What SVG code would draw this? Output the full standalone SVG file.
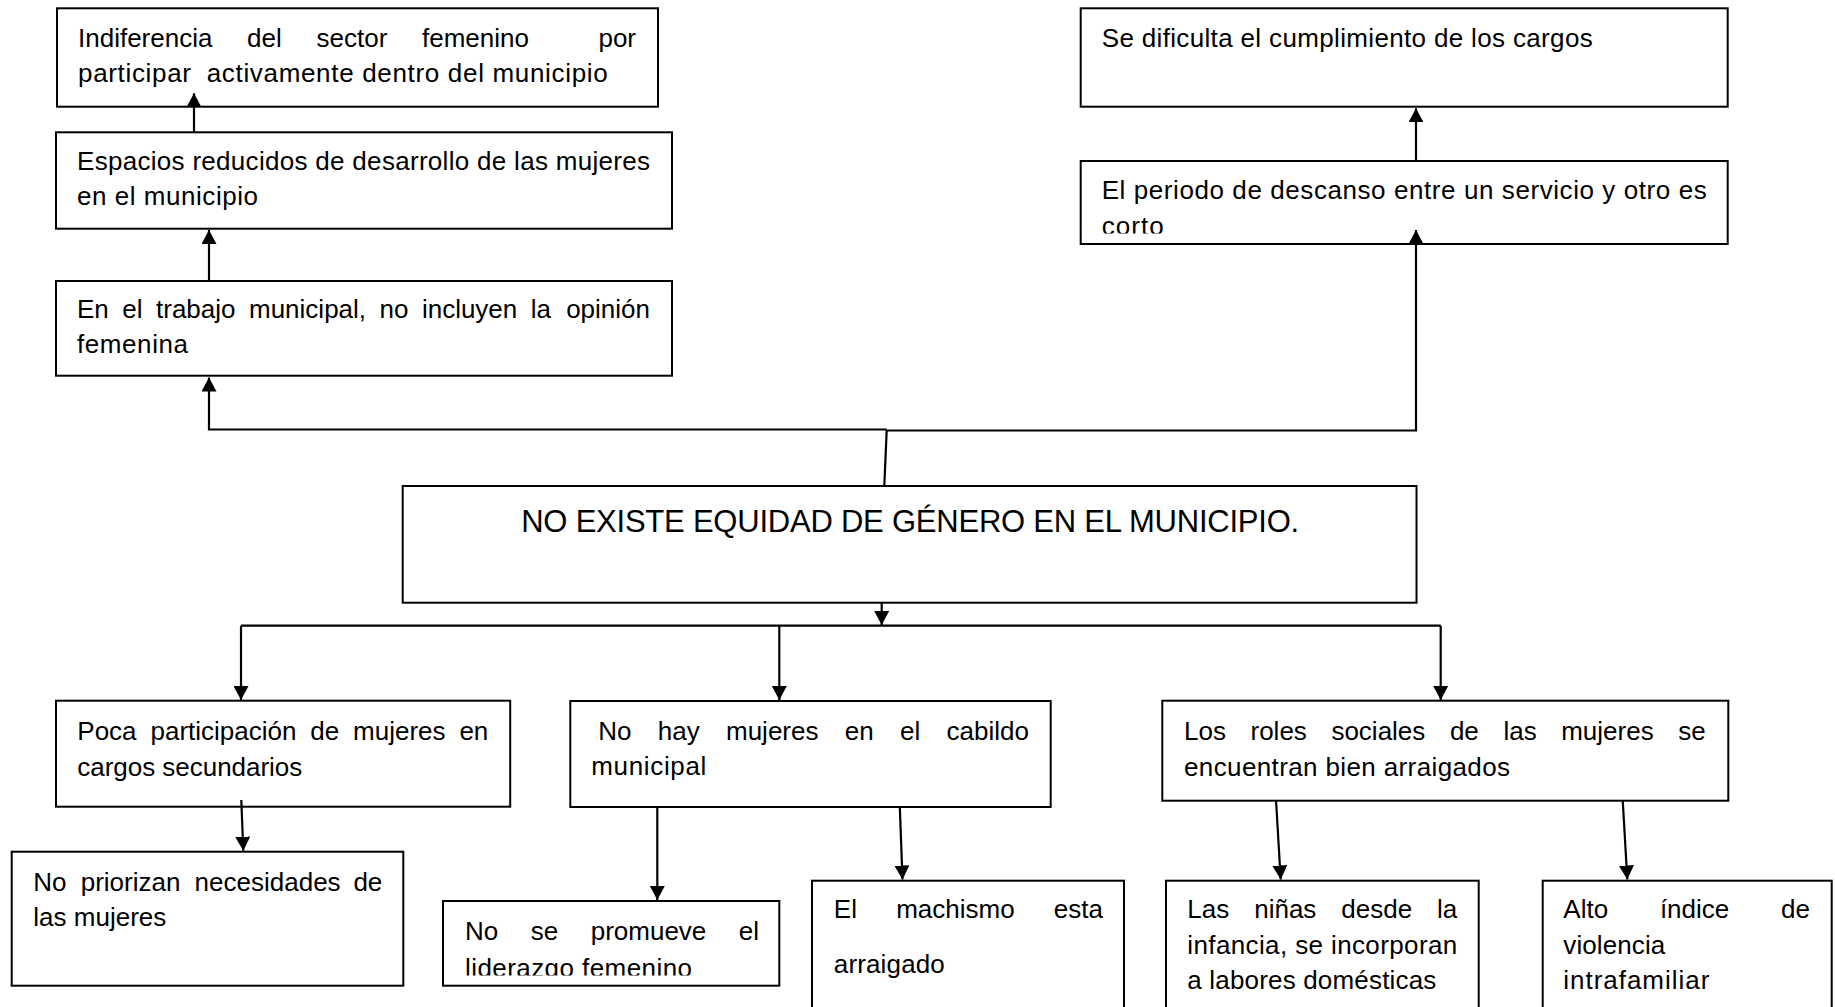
<svg xmlns="http://www.w3.org/2000/svg" width="1835" height="1007" viewBox="0 0 1835 1007">
<style>
  .box { fill: #fff; stroke: #000; stroke-width: 2; }
  .t { font-family: "Liberation Sans", Arial, sans-serif; font-size: 26px; fill: #000; }
  .e { text-anchor: end; }
  .title { font-family: "Liberation Sans", Arial, sans-serif; font-size: 31px; fill: #000; }
  .c { fill: none; stroke: #000; stroke-width: 2.2; }
  .a { marker-end: url(#arr); }
</style>
<defs>
  <marker id="arr" viewBox="0 0 14 15" markerWidth="14" markerHeight="15" refX="14" refY="7.5" orient="auto" markerUnits="userSpaceOnUse">
    <path d="M0,0 L14,7.5 L0,15 z" fill="#000"/>
  </marker>
  <clipPath id="clipE"><rect x="1080" y="161" width="648" height="72.5"/></clipPath>
  <clipPath id="clipK"><rect x="443" y="901" width="337" height="74.5"/></clipPath>
</defs>
<rect width="1835" height="1007" fill="#fff"/>

<g id="nodeA">
  <rect class="box" x="57" y="8.3" width="601" height="98.4"/>
  <text class="t" y="47"><tspan x="78">Indiferencia</tspan><tspan x="247">del</tspan><tspan x="316.5">sector</tspan><tspan x="422">femenino</tspan></text>
  <text class="t e" x="636" y="47">por</text>
  <text class="t" x="78" y="82" textLength="113" lengthAdjust="spacing">participar</text>
  <text class="t" x="206.7" y="82" textLength="401" lengthAdjust="spacing">activamente dentro del municipio</text>
</g>

<g id="nodeB">
  <rect class="box" x="56" y="132.3" width="616" height="96.4"/>
  <text class="t" x="77" y="170" textLength="573" lengthAdjust="spacing">Espacios reducidos de desarrollo de las mujeres</text>
  <text class="t" x="77" y="205" textLength="181" lengthAdjust="spacing">en el municipio</text>
</g>

<g id="nodeC">
  <rect class="box" x="56" y="281" width="616" height="94.7"/>
  <text class="t" y="318"><tspan x="77">En</tspan><tspan x="122.3">el</tspan><tspan x="156">trabajo</tspan><tspan x="249">municipal,</tspan><tspan x="379.5">no</tspan><tspan x="421.9">incluyen</tspan><tspan x="530.8">la</tspan></text>
  <text class="t e" x="650" y="318">opinión</text>
  <text class="t" x="77" y="353" textLength="111" lengthAdjust="spacing">femenina</text>
</g>

<g id="nodeD">
  <rect class="box" x="1080.7" y="8.3" width="647" height="98.4"/>
  <text class="t" x="1101.7" y="46.7" textLength="491" lengthAdjust="spacing">Se dificulta el cumplimiento de los cargos</text>
</g>

<g id="nodeE">
  <rect class="box" x="1080.7" y="161" width="647" height="83"/>
  <text class="t" x="1101.7" y="199.3" textLength="605" lengthAdjust="spacing">El periodo de descanso entre un servicio y otro es</text>
  <text class="t" x="1101.7" y="234.5" textLength="62" lengthAdjust="spacing" clip-path="url(#clipE)">corto</text>
</g>

<g id="nodeF">
  <rect class="box" x="402.7" y="486" width="1013.8" height="116.7"/>
  <text class="title" x="521.2" y="531.7" textLength="778" lengthAdjust="spacing">NO EXISTE EQUIDAD DE GÉNERO EN EL MUNICIPIO.</text>
</g>

<g id="nodeG">
  <rect class="box" x="56" y="700.7" width="454.2" height="106"/>
  <text class="t" y="740"><tspan x="77.3">Poca</tspan><tspan x="150.5">participación</tspan><tspan x="310.3">de</tspan><tspan x="353.1">mujeres</tspan></text>
  <text class="t e" x="488.3" y="740">en</text>
  <text class="t" x="77.3" y="776" textLength="225" lengthAdjust="spacing">cargos secundarios</text>
</g>

<g id="nodeH">
  <rect class="box" x="570.3" y="701" width="480.4" height="106"/>
  <text class="t" y="740"><tspan x="598.3">No</tspan><tspan x="657.8">hay</tspan><tspan x="726">mujeres</tspan><tspan x="844.8">en</tspan><tspan x="900">el</tspan></text>
  <text class="t e" x="1029" y="740">cabildo</text>
  <text class="t" x="591.3" y="775" textLength="115" lengthAdjust="spacing">municipal</text>
</g>

<g id="nodeI">
  <rect class="box" x="1162.3" y="700.7" width="566" height="100"/>
  <text class="t" y="740"><tspan x="1184">Los</tspan><tspan x="1250.5">roles</tspan><tspan x="1331.4">sociales</tspan><tspan x="1449.9">de</tspan><tspan x="1503.4">las</tspan><tspan x="1561.2">mujeres</tspan></text>
  <text class="t e" x="1705.7" y="740">se</text>
  <text class="t" x="1184" y="776" textLength="326" lengthAdjust="spacing">encuentran bien arraigados</text>
</g>

<g id="nodeJ">
  <rect class="box" x="11.7" y="851.7" width="391.6" height="134"/>
  <text class="t" y="890.7"><tspan x="33.3">No</tspan><tspan x="80.7">priorizan</tspan><tspan x="194.6">necesidades</tspan></text>
  <text class="t e" x="382.3" y="890.7">de</text>
  <text class="t" x="33.3" y="926" textLength="133" lengthAdjust="spacing">las mujeres</text>
</g>

<g id="nodeK">
  <rect class="box" x="443" y="901" width="336.3" height="84.7"/>
  <text class="t" y="940"><tspan x="465">No</tspan><tspan x="530.7">se</tspan><tspan x="590.7">promueve</tspan></text>
  <text class="t e" x="759" y="940">el</text>
  <text class="t" x="465" y="976.5" textLength="227" lengthAdjust="spacing" clip-path="url(#clipK)">liderazgo femenino</text>
</g>

<g id="nodeL">
  <rect class="box" x="812" y="880.7" width="312" height="140"/>
  <text class="t" y="918.3"><tspan x="833.8">El</tspan><tspan x="896.2">machismo</tspan></text>
  <text class="t e" x="1103" y="918.3">esta</text>
  <text class="t" x="833.8" y="973.3" textLength="111" lengthAdjust="spacing">arraigado</text>
</g>

<g id="nodeM">
  <rect class="box" x="1166" y="880.7" width="312.7" height="140"/>
  <text class="t" y="918.3"><tspan x="1187.3">Las</tspan><tspan x="1254.2">niñas</tspan><tspan x="1341.3">desde</tspan></text>
  <text class="t e" x="1457.3" y="918.3">la</text>
  <text class="t" x="1187.3" y="954" textLength="270" lengthAdjust="spacing">infancia, se incorporan</text>
  <text class="t" x="1187.3" y="989.3" textLength="249" lengthAdjust="spacing">a labores domésticas</text>
</g>

<g id="nodeN">
  <rect class="box" x="1542.7" y="880.7" width="289" height="140"/>
  <text class="t" y="918.3"><tspan x="1563.3">Alto</tspan><tspan x="1659.9">índice</tspan></text>
  <text class="t e" x="1810" y="918.3">de</text>
  <text class="t" x="1563.3" y="954" textLength="102" lengthAdjust="spacing">violencia</text>
  <text class="t" x="1563.3" y="989.3" textLength="146" lengthAdjust="spacing">intrafamiliar</text>
</g>

<g id="connectors">
  <path class="c a" d="M194,132.3 L194,93.3"/>
  <path class="c a" d="M209,281 L209,230"/>
  <path class="c" d="M884.3,486 L886.7,430" stroke-width="1.5"/>
  <path class="c a" d="M886.7,429.5 L209,429.5 L209,377.5"/>
  <path class="c a" d="M886.7,430.5 L1416,430.5 L1416,230"/>
  <path class="c a" d="M1416,161 L1416,108.3"/>
  <path class="c a" d="M881.7,602.7 L881.7,625"/>
  <path class="c" d="M241,625.7 L1440.7,625.7"/>
  <path class="c a" d="M241,625.7 L241,700"/>
  <path class="c a" d="M779.3,625.7 L779.3,700"/>
  <path class="c a" d="M1440.7,625.7 L1440.7,700"/>
  <path class="c a" d="M241.3,800 L243.3,850.7"/>
  <path class="c a" d="M657.3,807 L657.3,900"/>
  <path class="c a" d="M899.8,806.7 L902.5,879.5"/>
  <path class="c a" d="M1276,800 L1280.7,879.5"/>
  <path class="c a" d="M1622.7,800 L1627.3,879.5"/>
</g>
</svg>
